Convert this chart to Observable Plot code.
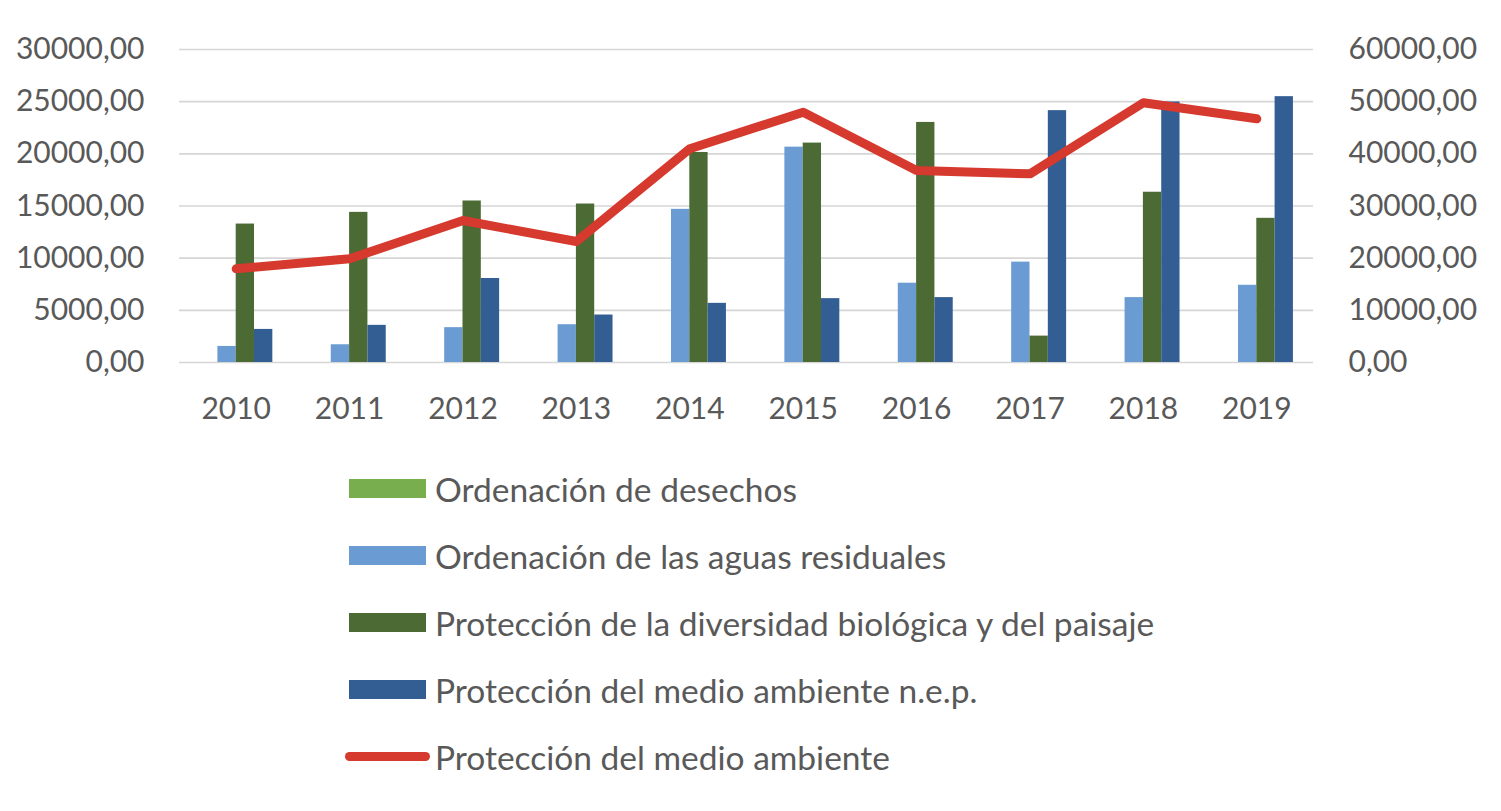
<!DOCTYPE html>
<html><head><meta charset="utf-8">
<script src="https://cdn.jsdelivr.net/npm/d3@7"></script>
<script src="https://cdn.jsdelivr.net/npm/@observablehq/plot@0.6"></script>
<style>
body{margin:0;background:#fff;font-family:Lato,sans-serif;}
#chart{position:absolute;left:0;top:0;}
#legend{position:absolute;left:345px;top:455px;color:#595959;font-family:Lato,sans-serif;font-size:33.5px;}
.row{display:flex;align-items:center;height:67px;white-space:nowrap;}
.sw{width:85px;height:67px;display:flex;align-items:center;justify-content:center;margin-right:5px;}
.box{width:77px;height:19px;}
.ln{width:85px;height:9px;border-radius:4.5px;}
</style>
</head><body>
<div id="chart"></div>
<div id="legend"></div>
<script>
const years = [2010, 2011, 2012, 2013, 2014, 2015, 2016, 2017, 2018, 2019];
const seriesNames = [
  "Ordenación de desechos",
  "Ordenación de las aguas residuales",
  "Protección de la diversidad biológica y del paisaje",
  "Protección del medio ambiente n.e.p."
];
const lineName = "Protección del medio ambiente";
const desechos = [null, null, null, null, null, null, null, null, null, null];
const aguas    = [1540, 1700, 3340, 3620, 14680, 20640, 7600, 9620, 6220, 7400];
const biodiv   = [13270, 14390, 15480, 15190, 20130, 21030, 23010, 2530, 16320, 13820];
const nep      = [3170, 3560, 8050, 4550, 5670, 6120, 6220, 24140, 24970, 25480];
const total    = [17960, 19880, 27220, 23190, 40970, 47980, 36800, 36170, 49800, 46710];
const leftTicks  = [0, 5000, 10000, 15000, 20000, 25000, 30000];
const rightTicks = [0, 10000, 20000, 30000, 40000, 50000, 60000];
const colors = ["#78AE4E", "#6A9BD2", "#4C6A34", "#335E93"];
const lineColor = "#D6392D";

const leftMax = 30000, rightMax = 60000;
const fmt = d => d3.format(".2f")(d).replace(".", ",");
const groupFrac = 0.646;
const barW = groupFrac / 4;

const barSeries = [desechos, aguas, biodiv, nep];
const bars = [];
barSeries.forEach((vals, i) => vals.forEach((v, j) => {
  if (v != null) bars.push({year: years[j], i, series: seriesNames[i], value: v});
}));
const lineData = years.map((y, j) => ({year: y, total: total[j]}));

const chart = Plot.plot({
  width: 1501,
  height: 445,
  marginLeft: 179,
  marginRight: 188,
  marginTop: 49,
  marginBottom: 83,
  style: {fontFamily: "Lato, sans-serif", fontSize: "30px", color: "#595959", background: "transparent"},
  x: {domain: [2009.5, 2019.5]},
  y: {domain: [0, leftMax]},
  marks: [
    Plot.ruleY(leftTicks, {stroke: "#d6d6d6", strokeWidth: 1.6}),
    Plot.rectY(bars, {
      x1: d => d.year - groupFrac / 2 + d.i * barW,
      x2: d => d.year - groupFrac / 2 + (d.i + 1) * barW,
      y1: 0,
      y2: "value",
      fill: d => colors[d.i]
    }),
    Plot.line(lineData, {
      x: "year",
      y: d => d.total * leftMax / rightMax,
      stroke: lineColor,
      strokeWidth: 9,
      strokeLinecap: "round",
      strokeLinejoin: "round"
    }),
    Plot.axisY(leftTicks, {anchor: "left", tickSize: 0, tickPadding: 35, tickFormat: fmt, label: null, fill: "#595959"}),
    Plot.axisY(rightTicks.map(t => t * leftMax / rightMax), {anchor: "right", tickSize: 0, tickPadding: 35, tickFormat: d => fmt(d * rightMax / leftMax), label: null, fill: "#595959"}),
    Plot.axisX(years, {tickSize: 0, tickPadding: 35, tickFormat: d => String(d), label: null, fill: "#595959"})
  ]
});
document.getElementById("chart").appendChild(chart);

const legend = document.getElementById("legend");
seriesNames.forEach((name, i) => {
  const row = document.createElement("div");
  row.className = "row";
  row.innerHTML = `<div class="sw"><div class="box" style="background:${colors[i]}"></div></div><span>${name}</span>`;
  legend.appendChild(row);
});
const lrow = document.createElement("div");
lrow.className = "row";
lrow.innerHTML = `<div class="sw"><div class="ln" style="background:${lineColor}"></div></div><span>${lineName}</span>`;
legend.appendChild(lrow);
</script>
</body></html>
